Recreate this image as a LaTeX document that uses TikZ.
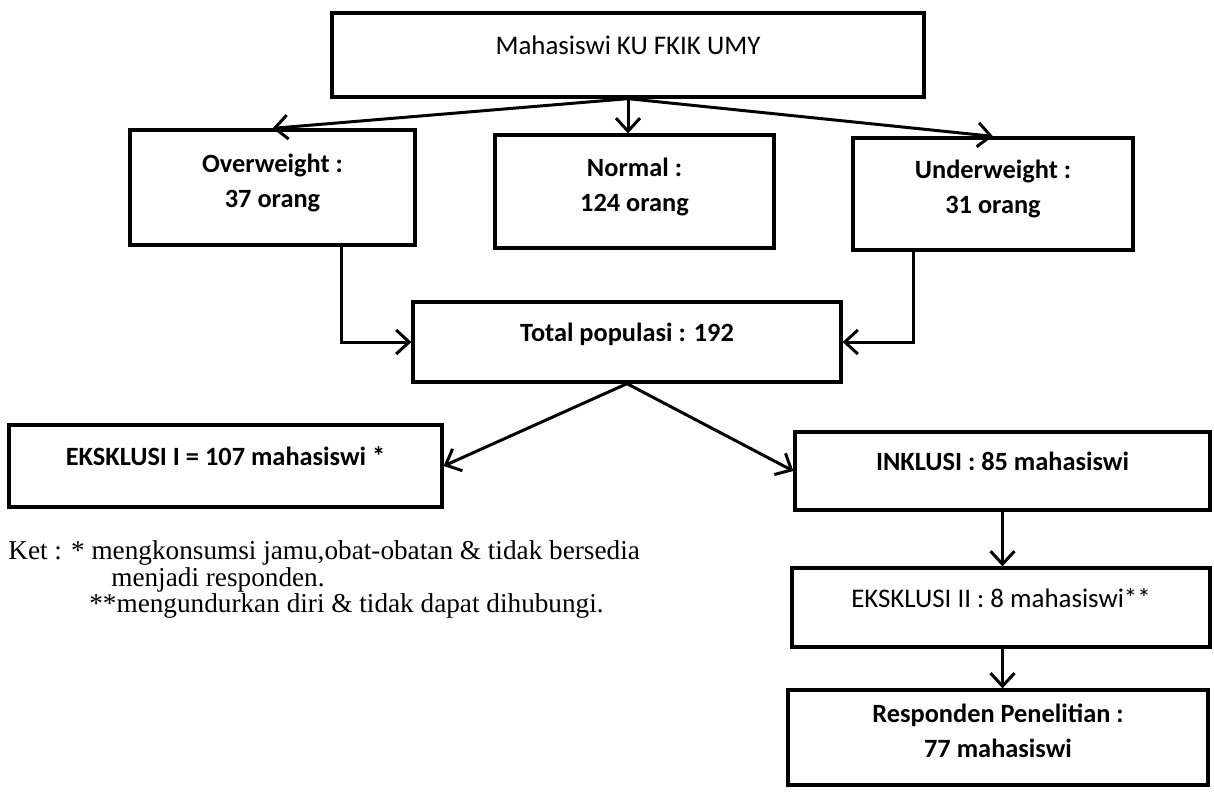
\documentclass[tikz,border=0pt]{standalone}
\usepackage{fontspec}
\setmainfont{Liberation Serif}
\newfontfamily\boxfont{Carlito}
\usetikzlibrary{arrows.meta,positioning}

\begin{document}
\begin{tikzpicture}[x=0.02cm, y=-0.02cm,
  box/.style={draw, line width=1.9pt, align=center, inner sep=2pt, text depth=11pt, font=\boxfont\fontsize{15.3}{20}\selectfont},
  bbox/.style={box, font=\boxfont\bfseries\fontsize{15}{20}\selectfont},
  two/.style={text depth=8pt},
  arr/.style={line width=1.7pt, -{Straight Barb[length=2.6mm,width=4.8mm,line width=1.7pt]}},
  ket/.style={anchor=west, inner sep=0pt, font=\fontsize{15.5}{18}\selectfont}]
\useasboundingbox (0,0) rectangle (1214,792);
\node[box, minimum width=11.84cm, minimum height=1.68cm] (top) at (628,55) {Mahasiswi KU FKIK UMY};
\node[bbox, two, minimum width=5.7cm, minimum height=2.3cm] (over) at (272.5,187.5) {Overweight :\\37 orang};
\node[bbox, two, minimum width=5.58cm, minimum height=2.26cm] (normal) at (634.5,191.5) {Normal :\\124 orang};
\node[bbox, two, minimum width=5.6cm, minimum height=2.24cm] (under) at (993,194) {Underweight :\\31 orang};
\node[bbox, minimum width=8.56cm, minimum height=1.6cm] (total) at (627,342) {Total populasi : 192};
\node[bbox, minimum width=8.66cm, minimum height=1.64cm] (eks1) at (225.5,466) {EKSKLUSI I = 107 mahasiswi *};
\node[bbox, minimum width=8.3cm, minimum height=1.56cm] (inkl) at (1002.5,471) {INKLUSI : 85 mahasiswi};
\node[box, minimum width=8.36cm, minimum height=1.58cm] (eks2) at (1001,607.5) {EKSKLUSI II : 8 mahasiswi**};
\node[bbox, two, minimum width=8.4cm, minimum height=1.9cm] (resp) at (998,737.5) {Responden Penelitian :\\77 mahasiswi};
% cabang dari populasi awal
\draw[arr] (top.south) -- (over.north);
\draw[arr] (top.south) -- (top.south |- normal.north);
\draw[arr] (top.south) -- (under.north);
\draw[arr] ([xshift=1.38cm]over.south) |- (total.west);
\draw[arr] ([xshift=-1.6cm]under.south) |- (total.east);
% seleksi responden
\draw[arr] (total.south) -- (eks1.east);
\draw[arr] (total.south) -- (inkl.west);
\draw[arr] (inkl.south) -- (inkl.south |- eks2.north);
\draw[arr] (inkl.south |- eks2.south) -- (inkl.south |- resp.north);
% keterangan
\node[ket] (ket1) at (8,553) {Ket : * mengkonsumsi jamu,obat-obatan \& tidak bersedia};
\node[ket] (ket2) at (111,580) {menjadi responden.};
\node[ket] (ket3) at (89,606) {**mengundurkan diri \& tidak dapat dihubungi.};
\end{tikzpicture}
\end{document}
